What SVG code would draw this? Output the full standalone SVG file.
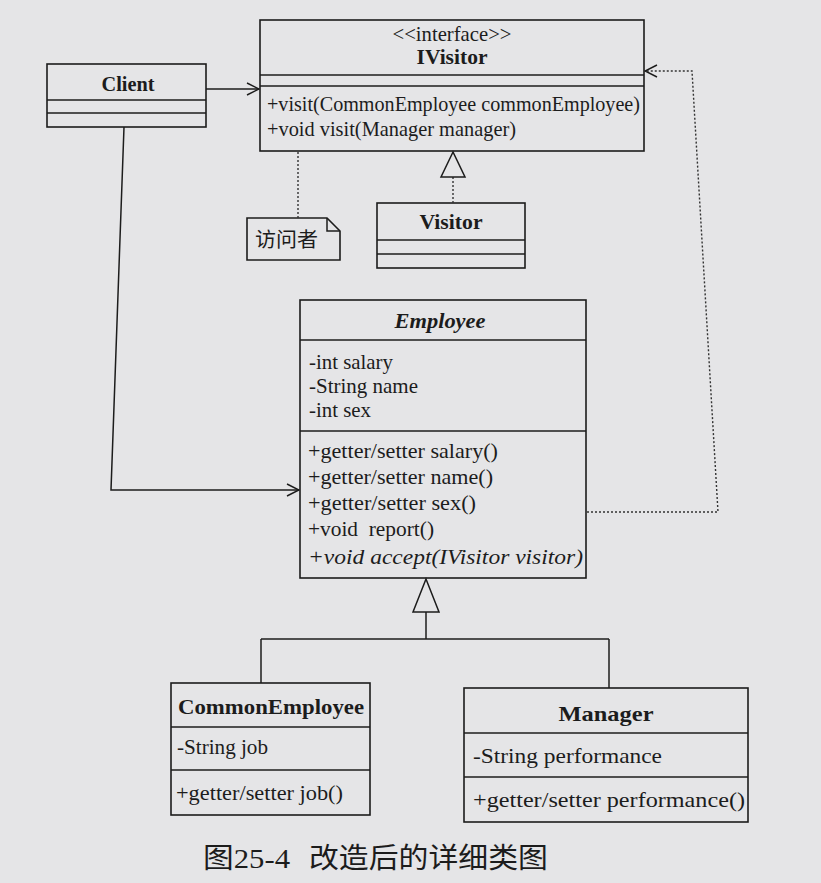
<svg xmlns="http://www.w3.org/2000/svg" width="821" height="883" viewBox="0 0 821 883">
<style>
.bg{fill:#e5e5e7}
.box{fill:none;stroke:#1c1c1c;stroke-width:1.6}
.ln{fill:none;stroke:#1c1c1c;stroke-width:1.5}
.dot{fill:none;stroke:#333;stroke-width:1.4;stroke-dasharray:2 2}
.tri{fill:#e5e5e7;stroke:#1c1c1c;stroke-width:1.5}
.t{font-family:"Liberation Serif","Times New Roman",serif;font-size:21px;fill:#1c1c1c}
.b{font-weight:bold}
.i{font-style:italic}
.c{text-anchor:middle}
.cjk{font-family:"Noto Sans CJK SC",sans-serif;font-size:20px;fill:#1c1c1c}
.cap{font-family:"Liberation Serif","Noto Sans CJK SC",serif;font-size:28px;fill:#1c1c1c}
</style>
<defs>
<marker id="open" viewBox="0 0 14 14" refX="13" refY="7" markerWidth="14" markerHeight="14" markerUnits="userSpaceOnUse" orient="auto">
<path d="M1,1 L13,7 L1,13" fill="none" stroke="#1c1c1c" stroke-width="1.5"/>
</marker>
</defs>
<rect class="bg" x="0" y="0" width="821" height="883"/>

<g id="IVisitor">
<rect class="box" x="260" y="20" width="384" height="131"/>
<line class="ln" x1="260" y1="75" x2="644" y2="75"/>
<line class="ln" x1="260" y1="86" x2="644" y2="86"/>
<text class="t c" x="452" y="41" font-size="18" textLength="119" lengthAdjust="spacingAndGlyphs">&lt;&lt;interface&gt;&gt;</text>
<text class="t b c" x="452" y="64" font-size="20" textLength="71" lengthAdjust="spacingAndGlyphs">IVisitor</text>
<text class="t" x="267" y="111" textLength="373" lengthAdjust="spacingAndGlyphs">+visit(CommonEmployee commonEmployee)</text>
<text class="t" x="267" y="136" textLength="249" lengthAdjust="spacingAndGlyphs">+void visit(Manager manager)</text>
</g>

<g id="Client">
<rect class="box" x="47" y="64" width="159" height="63"/>
<line class="ln" x1="47" y1="100" x2="206" y2="100"/>
<line class="ln" x1="47" y1="113" x2="206" y2="113"/>
<text class="t b c" x="128" y="91" font-size="20" textLength="53" lengthAdjust="spacingAndGlyphs">Client</text>
</g>

<g id="Note">
<path class="box" d="M247,218 H327 L340,231 V260 H247 Z"/>
<path class="ln" d="M327,218 V231 H340"/>
<text class="cjk" x="255" y="247" textLength="63" lengthAdjust="spacingAndGlyphs">访问者</text>
</g>

<g id="Visitor">
<rect class="box" x="377" y="203" width="148" height="65"/>
<line class="ln" x1="377" y1="240" x2="525" y2="240"/>
<line class="ln" x1="377" y1="254" x2="525" y2="254"/>
<text class="t b c" x="451" y="229" font-size="20" textLength="63" lengthAdjust="spacingAndGlyphs">Visitor</text>
</g>

<g id="Employee">
<rect class="box" x="300" y="300" width="286" height="278"/>
<line class="ln" x1="300" y1="340" x2="586" y2="340"/>
<line class="ln" x1="300" y1="431" x2="586" y2="431"/>
<text class="t b i c" x="440" y="328" font-size="20" textLength="91" lengthAdjust="spacingAndGlyphs">Employee</text>
<text class="t" x="309" y="369" textLength="84" lengthAdjust="spacingAndGlyphs">-int salary</text>
<text class="t" x="309" y="393" textLength="109" lengthAdjust="spacingAndGlyphs">-String name</text>
<text class="t" x="309" y="417" textLength="62" lengthAdjust="spacingAndGlyphs">-int sex</text>
<text class="t" x="308" y="458" textLength="190" lengthAdjust="spacingAndGlyphs">+getter/setter salary()</text>
<text class="t" x="308" y="484" textLength="185" lengthAdjust="spacingAndGlyphs">+getter/setter name()</text>
<text class="t" x="308" y="510" textLength="168" lengthAdjust="spacingAndGlyphs">+getter/setter sex()</text>
<text class="t" x="308" y="536" textLength="126" lengthAdjust="spacingAndGlyphs" xml:space="preserve">+void  report()</text>
<text class="t i" x="308" y="564" textLength="275" lengthAdjust="spacingAndGlyphs">+void accept(IVisitor visitor)</text>
</g>

<g id="CommonEmployee">
<rect class="box" x="171" y="683" width="199" height="132"/>
<line class="ln" x1="171" y1="727" x2="370" y2="727"/>
<line class="ln" x1="171" y1="770" x2="370" y2="770"/>
<text class="t b c" x="271" y="714" font-size="20" textLength="186" lengthAdjust="spacingAndGlyphs">CommonEmployee</text>
<text class="t" x="177" y="754" textLength="91" lengthAdjust="spacingAndGlyphs">-String job</text>
<text class="t" x="176" y="800" textLength="167" lengthAdjust="spacingAndGlyphs">+getter/setter job()</text>
</g>

<g id="Manager">
<rect class="box" x="464" y="688" width="284" height="134"/>
<line class="ln" x1="464" y1="733" x2="748" y2="733"/>
<line class="ln" x1="464" y1="777" x2="748" y2="777"/>
<text class="t b c" x="606" y="721" font-size="21" textLength="95" lengthAdjust="spacingAndGlyphs">Manager</text>
<text class="t" x="473" y="763" textLength="189" lengthAdjust="spacingAndGlyphs">-String performance</text>
<text class="t" x="473" y="807" textLength="272" lengthAdjust="spacingAndGlyphs">+getter/setter performance()</text>
</g>

<g id="connectors">
<line class="ln" x1="206" y1="89" x2="259" y2="89" marker-end="url(#open)"/>
<polyline class="ln" points="124,127 111,490 299,490" marker-end="url(#open)"/>
<line class="dot" x1="298" y1="152" x2="298" y2="218"/>
<line class="dot" x1="453" y1="203" x2="453" y2="177"/>
<polygon class="tri" points="453,152 441,177 465,177"/>
<polyline class="dot" points="587,512 718,512 692,71 645,71" marker-end="url(#open)"/>
<polygon class="tri" points="426,579 413,612 439,612"/>
<line class="ln" x1="426" y1="612" x2="426" y2="639"/>
<line class="ln" x1="261" y1="639" x2="609" y2="639"/>
<line class="ln" x1="261" y1="639" x2="261" y2="683"/>
<line class="ln" x1="609" y1="639" x2="609" y2="688"/>
</g>

<g id="caption">
<text class="cap" x="203" y="868" textLength="87" lengthAdjust="spacingAndGlyphs">图25-4</text>
<text class="cap" x="309" y="868" textLength="239" lengthAdjust="spacingAndGlyphs">改造后的详细类图</text>
</g>
</svg>
